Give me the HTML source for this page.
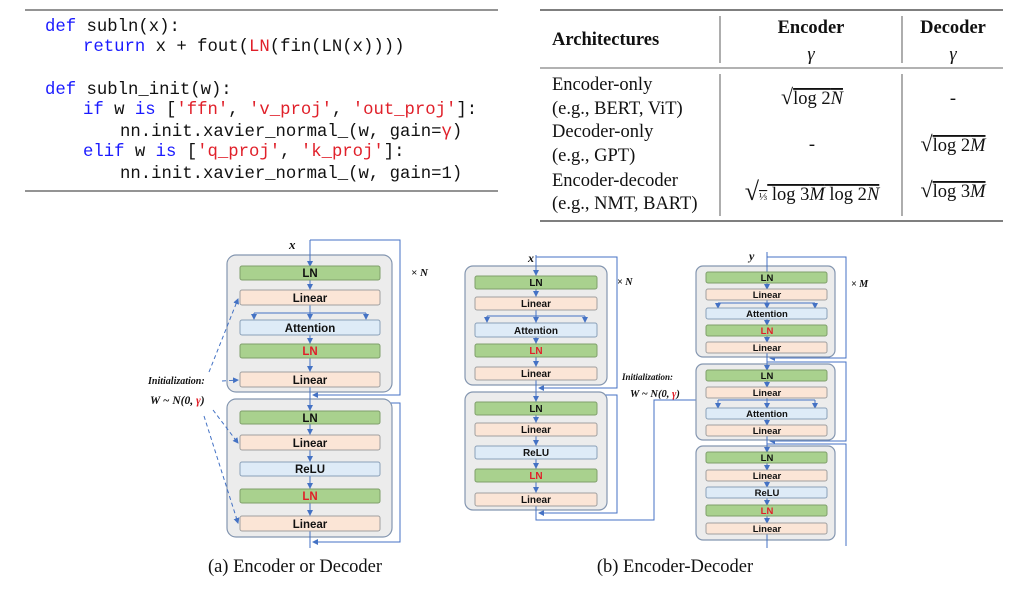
<!DOCTYPE html>
<html><head><meta charset="utf-8"><style>
html,body{margin:0;padding:0;background:#fff;}
svg{display:block;}
.m{font-family:"Liberation Mono",monospace;font-size:17.3px;fill:#111;}
.k{fill:#1a1aff;}
.r{fill:#e0202a;}
.s{font-family:"Liberation Serif",serif;font-size:18.5px;fill:#111;}
.sb{font-family:"Liberation Serif",serif;font-size:18.5px;font-weight:bold;fill:#111;}
.bx{font-family:"Liberation Sans",sans-serif;font-weight:bold;fill:#111;text-anchor:middle;}
.g{fill:#a9d18e;stroke:#7f9f6b;stroke-width:1;}
.o{fill:#fbe5d6;stroke:#a0a0a0;stroke-width:1;}
.b{fill:#deebf7;stroke:#8aa0b8;stroke-width:1;}
.ob{fill:#ececec;stroke:#8496b0;stroke-width:1.2;}
.ln{stroke:#4472c4;stroke-width:1;fill:none;}
.it{font-family:"Liberation Serif",serif;font-style:italic;font-weight:bold;fill:#111;}
</style></head><body>
<svg width="1024" height="592" viewBox="0 0 1024 592" xmlns="http://www.w3.org/2000/svg">
<defs>
<marker id="a" markerWidth="6" markerHeight="6" refX="5" refY="3" orient="auto" markerUnits="userSpaceOnUse"><path d="M0,0 L6,3 L0,6 z" fill="#4472c4"/></marker>
</defs>
<!-- code -->
<line x1="25" y1="10" x2="498" y2="10" stroke="#555" stroke-width="1.2"/>
<line x1="25" y1="191" x2="498" y2="191" stroke="#555" stroke-width="1.2"/>
<text class="m" x="45" y="31"><tspan class="k">def</tspan> subln(x):</text>
<text class="m" x="83" y="51"><tspan class="k">return</tspan> x + fout(<tspan class="r">LN</tspan>(fin(LN(x))))</text>
<text class="m" x="45" y="94"><tspan class="k">def</tspan> subln_init(w):</text>
<text class="m" x="83" y="114"><tspan class="k">if</tspan> w <tspan class="k">is</tspan> [<tspan class="r">'ffn'</tspan>, <tspan class="r">'v_proj'</tspan>, <tspan class="r">'out_proj'</tspan>]:</text>
<text class="m" x="120" y="136">nn.init.xavier_normal_(w, gain=<tspan class="r">γ</tspan>)</text>
<text class="m" x="83" y="156"><tspan class="k">elif</tspan> w <tspan class="k">is</tspan> [<tspan class="r">'q_proj'</tspan>, <tspan class="r">'k_proj'</tspan>]:</text>
<text class="m" x="120" y="178">nn.init.xavier_normal_(w, gain=1)</text>
<!-- table -->
<line x1="540" y1="10" x2="1003" y2="10" stroke="#333" stroke-width="1.3"/>
<line x1="540" y1="68" x2="1003" y2="68" stroke="#333" stroke-width="0.8"/>
<line x1="540" y1="221" x2="1003" y2="221" stroke="#333" stroke-width="1.3"/>
<line x1="720" y1="16" x2="720" y2="63" stroke="#333" stroke-width="0.8"/>
<line x1="902" y1="16" x2="902" y2="63" stroke="#333" stroke-width="0.8"/>
<line x1="720" y1="74" x2="720" y2="216" stroke="#333" stroke-width="0.8"/>
<line x1="902" y1="74" x2="902" y2="216" stroke="#333" stroke-width="0.8"/>
<text class="sb" x="552" y="45">Architectures</text>
<text class="sb" x="811" y="33" text-anchor="middle">Encoder</text>
<text class="sb" x="953" y="33" text-anchor="middle">Decoder</text>
<text class="s" x="811" y="60" text-anchor="middle" font-style="italic">γ</text>
<text class="s" x="953" y="60" text-anchor="middle" font-style="italic">γ</text>
<text class="s" x="552" y="90">Encoder-only</text>
<text class="s" x="552" y="114">(e.g., BERT, ViT)</text>
<text class="s" x="552" y="137">Decoder-only</text>
<text class="s" x="552" y="161">(e.g., GPT)</text>
<text class="s" x="552" y="186">Encoder-decoder</text>
<text class="s" x="552" y="209">(e.g., NMT, BART)</text>
<text class="s" x="812" y="104" text-anchor="middle"><tspan font-size="22">√</tspan><tspan text-decoration="overline">log 2<tspan font-style="italic">N</tspan></tspan></text>
<text class="s" x="953" y="104" text-anchor="middle">-</text>
<text class="s" x="812" y="150" text-anchor="middle">-</text>
<text class="s" x="953" y="151" text-anchor="middle"><tspan font-size="22">√</tspan><tspan text-decoration="overline">log 2<tspan font-style="italic">M</tspan></tspan></text>
<text class="s" x="812" y="200" text-anchor="middle"><tspan font-size="26">√</tspan><tspan text-decoration="overline"><tspan font-size="11">⅓</tspan> log 3<tspan font-style="italic">M</tspan> log 2<tspan font-style="italic">N</tspan></tspan></text>
<text class="s" x="953" y="197" text-anchor="middle"><tspan font-size="22">√</tspan><tspan text-decoration="overline">log 3<tspan font-style="italic">M</tspan></tspan></text>

<!-- (a) -->
<polyline class="ln" points="310,240 400,240 400,395 313,395" marker-end="url(#a)"/>
<polyline class="ln" points="310,403 400,403 400,542 313,542" marker-end="url(#a)"/>
<rect class="ob" x="227" y="255" width="165" height="137" rx="9"/>
<rect class="ob" x="227" y="399" width="165" height="138" rx="9"/>
<line class="ln" x1="310" y1="240" x2="310" y2="548"/>
<g class="ln" marker-end="url(#a)">
<line x1="310" y1="258" x2="310" y2="266"/><line x1="310" y1="281" x2="310" y2="289"/>
<line x1="310" y1="306" x2="310" y2="319"/><line x1="310" y1="336" x2="310" y2="343"/>
<line x1="310" y1="359" x2="310" y2="371"/><line x1="310" y1="402" x2="310" y2="410"/>
<line x1="310" y1="425" x2="310" y2="434"/><line x1="310" y1="451" x2="310" y2="461"/>
<line x1="310" y1="477" x2="310" y2="488"/><line x1="310" y1="504" x2="310" y2="515"/>
<polyline points="254,313 254,319"/><polyline points="366,313 366,319"/>
</g>
<line class="ln" x1="254" y1="313" x2="366" y2="313"/>
<rect class="g" x="240" y="266" width="140" height="14" rx="2"/>
<rect class="o" x="240" y="290" width="140" height="15" rx="2"/>
<rect class="b" x="240" y="320" width="140" height="15" rx="2"/>
<rect class="g" x="240" y="344" width="140" height="14" rx="2"/>
<rect class="o" x="240" y="372" width="140" height="15" rx="2"/>
<rect class="g" x="240" y="411" width="140" height="13" rx="2"/>
<rect class="o" x="240" y="435" width="140" height="15" rx="2"/>
<rect class="b" x="240" y="462" width="140" height="14" rx="2"/>
<rect class="g" x="240" y="489" width="140" height="14" rx="2"/>
<rect class="o" x="240" y="516" width="140" height="15" rx="2"/>
<g class="bx" font-size="11.5">
<text x="310" y="277">LN</text><text x="310" y="302">Linear</text><text x="310" y="332">Attention</text>
<text x="310" y="355" style="fill:#e0202a">LN</text><text x="310" y="384">Linear</text>
<text x="310" y="422">LN</text><text x="310" y="447">Linear</text><text x="310" y="473">ReLU</text>
<text x="310" y="500" style="fill:#e0202a">LN</text><text x="310" y="528">Linear</text>
</g>
<text class="it" x="289" y="249" font-size="13">x</text>
<text class="it" x="411" y="276" font-size="11" font-style="normal">× <tspan font-style="italic">N</tspan></text>
<text class="it" x="148" y="384" font-size="10">Initialization:</text>
<text class="it" x="150" y="404" font-size="11.5">W ~ N(0, <tspan fill="#e0202a">γ</tspan>)</text>
<g class="ln" stroke-dasharray="4,3" marker-end="url(#a)">
<line x1="209" y1="372" x2="238" y2="299"/>
<line x1="222" y1="381" x2="238" y2="380"/>
<line x1="213" y1="410" x2="238" y2="443"/>
<line x1="204" y1="416" x2="238" y2="523"/>
</g>

<!-- (b) left -->
<polyline class="ln" points="536,257 617,257 617,388 539,388" marker-end="url(#a)"/>
<polyline class="ln" points="536,395 617,395 617,513 539,513" marker-end="url(#a)"/>
<polyline class="ln" points="536,510 536,520 654,520 654,400 738,400"/>
<rect class="ob" x="465" y="266" width="142" height="119" rx="8"/>
<rect class="ob" x="465" y="392" width="142" height="118" rx="8"/>
<line class="ln" x1="536" y1="255" x2="536" y2="520"/>
<g class="ln" marker-end="url(#a)">
<line x1="536" y1="268" x2="536" y2="275"/><line x1="536" y1="290" x2="536" y2="296"/>
<line x1="536" y1="311" x2="536" y2="322"/><line x1="536" y1="338" x2="536" y2="343"/>
<line x1="536" y1="358" x2="536" y2="366"/><line x1="536" y1="394" x2="536" y2="401"/>
<line x1="536" y1="416" x2="536" y2="422"/><line x1="536" y1="437" x2="536" y2="445"/>
<line x1="536" y1="460" x2="536" y2="468"/><line x1="536" y1="483" x2="536" y2="492"/>
<line x1="487" y1="316" x2="487" y2="322"/><line x1="585" y1="316" x2="585" y2="322"/>
</g>
<line class="ln" x1="487" y1="316" x2="585" y2="316"/>
<rect class="g" x="475" y="276" width="122" height="13" rx="2"/>
<rect class="o" x="475" y="297" width="122" height="13" rx="2"/>
<rect class="b" x="475" y="323" width="122" height="14" rx="2"/>
<rect class="g" x="475" y="344" width="122" height="13" rx="2"/>
<rect class="o" x="475" y="367" width="122" height="13" rx="2"/>
<rect class="g" x="475" y="402" width="122" height="13" rx="2"/>
<rect class="o" x="475" y="423" width="122" height="13" rx="2"/>
<rect class="b" x="475" y="446" width="122" height="13" rx="2"/>
<rect class="g" x="475" y="469" width="122" height="13" rx="2"/>
<rect class="o" x="475" y="493" width="122" height="13" rx="2"/>
<g class="bx" font-size="10">
<text x="536" y="286">LN</text><text x="536" y="307">Linear</text><text x="536" y="334">Attention</text>
<text x="536" y="354" style="fill:#e0202a">LN</text><text x="536" y="377">Linear</text>
<text x="536" y="412">LN</text><text x="536" y="433">Linear</text><text x="536" y="456">ReLU</text>
<text x="536" y="479" style="fill:#e0202a">LN</text><text x="536" y="503">Linear</text>
</g>
<text class="it" x="528" y="262" font-size="12">x</text>
<text class="it" x="617" y="285" font-size="10" font-style="normal">× <tspan font-style="italic">N</tspan></text>
<text class="it" x="622" y="380" font-size="9">Initialization:</text>
<text class="it" x="630" y="397" font-size="10.5">W ~ N(0, <tspan fill="#e0202a">γ</tspan>)</text>

<!-- (b) right -->
<polyline class="ln" points="767,257 846,257 846,358 770,358" marker-end="url(#a)"/>
<polyline class="ln" points="767,362 846,362 846,441 770,441" marker-end="url(#a)"/>
<polyline class="ln" points="767,444 846,444 846,546"/>
<rect class="ob" x="696" y="266" width="139" height="91" rx="7"/>
<rect class="ob" x="696" y="364" width="139" height="76" rx="7"/>
<rect class="ob" x="696" y="446" width="139" height="94" rx="7"/>
<line class="ln" x1="767" y1="252" x2="767" y2="548"/>
<g class="ln" marker-end="url(#a)">
<line x1="767" y1="284" x2="767" y2="289"/><line x1="767" y1="301" x2="767" y2="308"/>
<line x1="767" y1="320" x2="767" y2="325"/><line x1="767" y1="337" x2="767" y2="342"/>
<line x1="767" y1="364" x2="767" y2="370"/><line x1="767" y1="382" x2="767" y2="387"/>
<line x1="767" y1="399" x2="767" y2="408"/><line x1="767" y1="420" x2="767" y2="425"/>
<line x1="767" y1="446" x2="767" y2="452"/><line x1="767" y1="464" x2="767" y2="470"/>
<line x1="767" y1="482" x2="767" y2="487"/><line x1="767" y1="499" x2="767" y2="505"/>
<line x1="767" y1="517" x2="767" y2="523"/>
<line x1="718" y1="303" x2="718" y2="308"/><line x1="815" y1="303" x2="815" y2="308"/>
<line x1="718" y1="400" x2="718" y2="408"/><line x1="815" y1="400" x2="815" y2="408"/>
</g>
<line class="ln" x1="718" y1="303" x2="815" y2="303"/>
<line class="ln" x1="718" y1="400" x2="815" y2="400"/>
<rect class="g" x="706" y="272" width="121" height="11" rx="2"/>
<rect class="o" x="706" y="289" width="121" height="11" rx="2"/>
<rect class="b" x="706" y="308" width="121" height="11" rx="2"/>
<rect class="g" x="706" y="325" width="121" height="11" rx="2"/>
<rect class="o" x="706" y="342" width="121" height="11" rx="2"/>
<rect class="g" x="706" y="370" width="121" height="11" rx="2"/>
<rect class="o" x="706" y="387" width="121" height="11" rx="2"/>
<rect class="b" x="706" y="408" width="121" height="11" rx="2"/>
<rect class="o" x="706" y="425" width="121" height="11" rx="2"/>
<rect class="g" x="706" y="452" width="121" height="11" rx="2"/>
<rect class="o" x="706" y="470" width="121" height="11" rx="2"/>
<rect class="b" x="706" y="487" width="121" height="11" rx="2"/>
<rect class="g" x="706" y="505" width="121" height="11" rx="2"/>
<rect class="o" x="706" y="523" width="121" height="11" rx="2"/>
<g class="bx" font-size="9.5">
<text x="767" y="281">LN</text><text x="767" y="298">Linear</text><text x="767" y="317">Attention</text>
<text x="767" y="334" style="fill:#e0202a">LN</text><text x="767" y="351">Linear</text>
<text x="767" y="379">LN</text><text x="767" y="396">Linear</text><text x="767" y="417">Attention</text>
<text x="767" y="434">Linear</text>
<text x="767" y="461">LN</text><text x="767" y="479">Linear</text><text x="767" y="496">ReLU</text>
<text x="767" y="514" style="fill:#e0202a">LN</text><text x="767" y="532">Linear</text>
</g>
<text class="it" x="749" y="260" font-size="12">y</text>
<text class="it" x="851" y="287" font-size="10" font-style="normal">× <tspan font-style="italic">M</tspan></text>

<text class="s" x="295" y="572" text-anchor="middle" font-size="15">(a) Encoder or Decoder</text>
<text class="s" x="675" y="572" text-anchor="middle" font-size="15">(b) Encoder-Decoder</text>
</svg>
</body></html>
